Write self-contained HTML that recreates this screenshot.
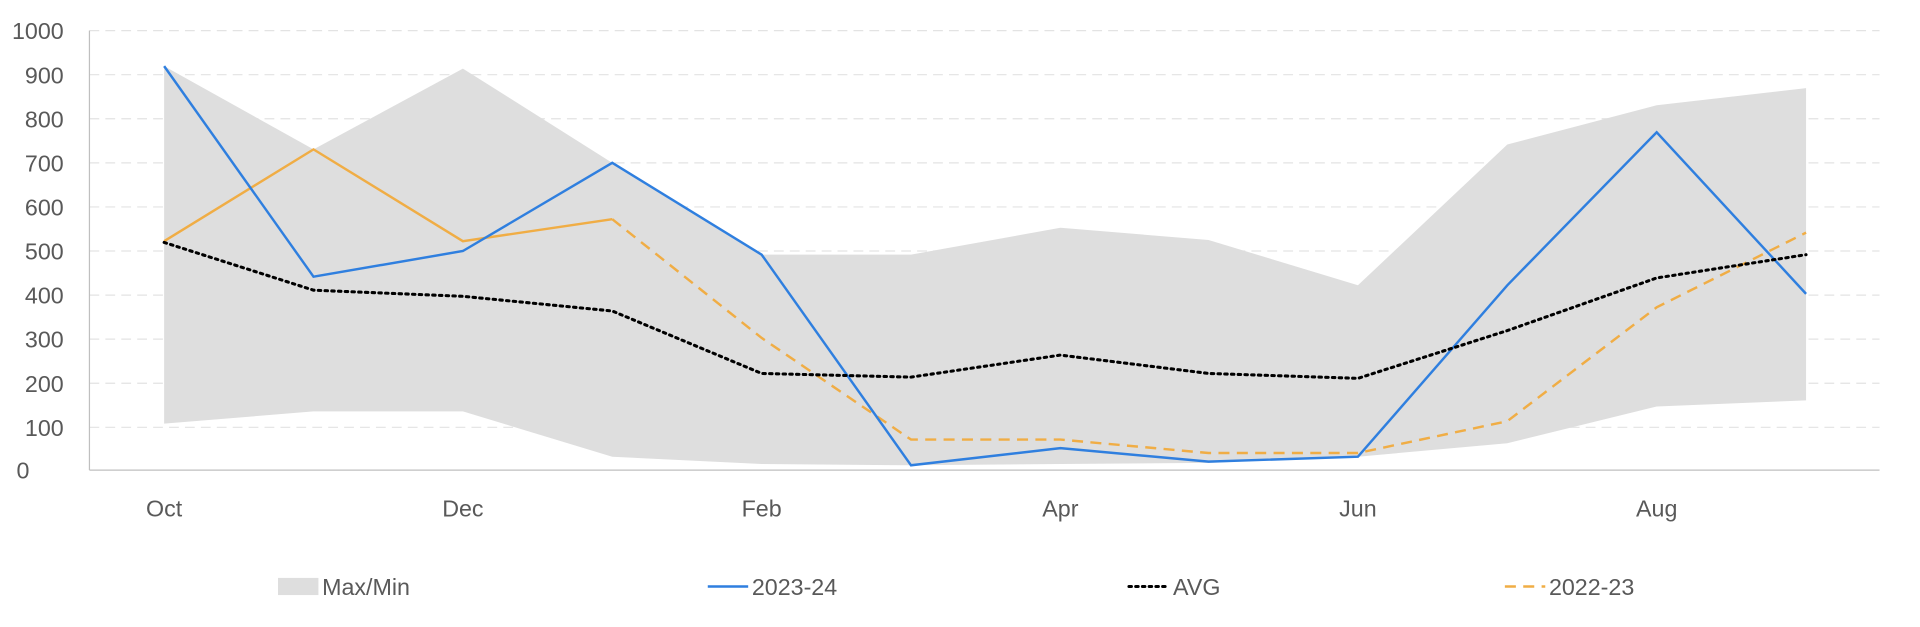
<!DOCTYPE html>
<html><head><meta charset="utf-8"><style>
html,body{margin:0;padding:0;background:#fff;overflow:hidden;}
svg text{font-family:"Liberation Sans",sans-serif;fill:#595959;font-size:19px;}
</style></head><body>
<svg width="1920" height="622" viewBox="0 0 1568 508" xmlns="http://www.w3.org/2000/svg">
<g stroke="#e3e3e3" stroke-width="1" stroke-dasharray="8,5">
<line x1="73" x2="1535" y1="25" y2="25"/><line x1="73" x2="1535" y1="61" y2="61"/>
<line x1="73" x2="1535" y1="97" y2="97"/><line x1="73" x2="1535" y1="133" y2="133"/>
<line x1="73" x2="1535" y1="169" y2="169"/><line x1="73" x2="1535" y1="205" y2="205"/>
<line x1="73" x2="1535" y1="241" y2="241"/><line x1="73" x2="1535" y1="277" y2="277"/>
<line x1="73" x2="1535" y1="313" y2="313"/><line x1="73" x2="1535" y1="349" y2="349"/>
</g>
<polygon fill="#dedede" points="134,54 256,122 378,56 500,133 622,208 744,208 866,186 987,196 1109,233 1231,118 1353,86 1475,72 1475,327 1353,332 1231,362 1109,373 987,378 866,379 744,380 622,379 500,373 378,336 256,336 134,346"/>
<line x1="73" x2="73" y1="25" y2="384" stroke="#bfbfbf"/>
<line x1="73" x2="1535" y1="384" y2="384" stroke="#bfbfbf"/>
<g text-anchor="end">
<text x="52" y="32">1000</text><text x="52" y="68">900</text><text x="52" y="104">800</text>
<text x="52" y="140">700</text><text x="52" y="176">600</text><text x="52" y="212">500</text>
<text x="52" y="248">400</text><text x="52" y="284">300</text><text x="52" y="320">200</text>
<text x="52" y="356">100</text><text x="24" y="391">0</text>
</g>
<g text-anchor="middle">
<text x="134" y="422">Oct</text><text x="378" y="422">Dec</text><text x="622" y="422">Feb</text>
<text x="866" y="422">Apr</text><text x="1109" y="422">Jun</text><text x="1353" y="422">Aug</text>
</g>
<polyline fill="none" stroke="#f0ad45" stroke-width="2" points="134,197 256,122 378,197 500,179"/>
<polyline fill="none" stroke="#f0ad45" stroke-width="2" stroke-dasharray="9,6" points="500,179 622,276 744,359 866,359 987,370 1109,370 1231,344 1353,251 1475,190"/>
<polyline fill="none" stroke="#2f7fdf" stroke-width="2" points="134,54 256,226 378,205 500,133 622,208 744,380 866,366 987,377 1109,373 1231,233 1353,108 1475,240"/>
<polyline fill="none" stroke="#000" stroke-width="2.5" stroke-dasharray="2,3.5" stroke-linecap="round" points="134,198 256,237 378,242 500,254 622,305 744,308 866,290 987,305 1109,309 1231,270 1353,227 1475,208"/>
<rect x="227" y="472" width="33" height="14" fill="#dedede"/>
<text x="263" y="486">Max/Min</text>
<line x1="578" x2="611" y1="479" y2="479" stroke="#2f7fdf" stroke-width="2"/>
<text x="614" y="486">2023-24</text>
<line x1="922" x2="955" y1="479" y2="479" stroke="#000" stroke-width="2.5" stroke-dasharray="2,3.5" stroke-linecap="round"/>
<text x="958" y="486">AVG</text>
<line x1="1229" x2="1262" y1="479" y2="479" stroke="#f0ad45" stroke-width="2" stroke-dasharray="9,6"/>
<text x="1265" y="486">2022-23</text>
</svg>
</body></html>
